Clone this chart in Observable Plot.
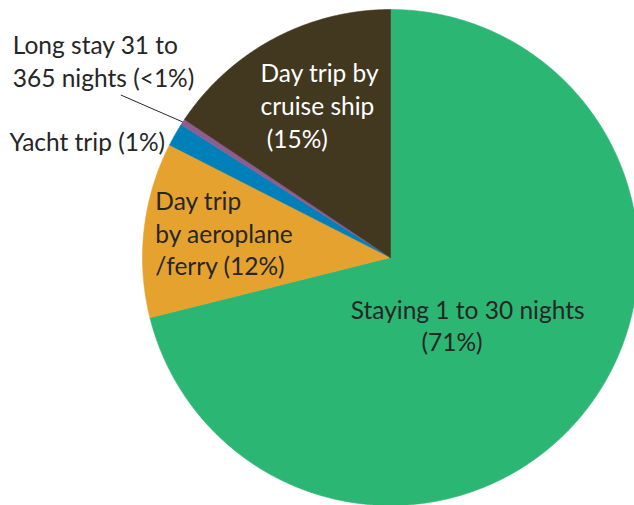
<!DOCTYPE html>
<html><head><meta charset="utf-8">
<script src="https://cdn.jsdelivr.net/npm/d3@7"></script>
<script src="https://cdn.jsdelivr.net/npm/@observablehq/plot@0.6"></script>
<style>html,body{margin:0;padding:0;background:#fff;overflow:hidden}</style>
</head><body><div id="chart"></div>
<script>
const categories = ["Staying 1 to 30 nights", "Day trip by aeroplane/ferry", "Yacht trip", "Long stay 31 to 365 nights", "Day trip by cruise ship"];
const shares = [71.1, 11.4, 1.5, 0.4, 15.6];
const labels = ["Staying 1 to 30 nights\n(71%)     ", "Day trip\nby aeroplane\n/ferry (12%)", "Yacht trip (1%)", "Long stay 31 to\n365 nights (<1%)", "Day trip by\ncruise ship\n (15%)"];
const colors = ["#2cb674", "#e5a22f", "#0080b9", "#8e5c8f", "#42371f"];
const textColors = ["#262626", "#262626", "#262626", "#262626", "#ffffff"];

const W = 634, H = 505, R = 248, CX = 390, CY = 257;
const FONT = "Lato", FS = 24.5;

const arcs = d3.pie().sort(null).value(d => d)(shares);
const slicePts = [];
arcs.forEach((a, i) => {
  slicePts.push({i, x: 0, y: 0});
  const n = Math.max(2, Math.ceil((a.endAngle - a.startAngle) / 0.004));
  for (let j = 0; j <= n; j++) {
    const t = a.startAngle + (a.endAngle - a.startAngle) * j / n;
    slicePts.push({i, x: R * Math.sin(t), y: R * Math.cos(t)});
  }
  slicePts.push({i, x: 0, y: 0});
});
const mid = a => (a.startAngle + a.endAngle) / 2;
const at = (a, k) => ({x: k * R * Math.sin(mid(a)), y: k * R * Math.cos(mid(a))});

const layout = [
  {k: 0.4, dx: -1, dy: 6, anchor: "middle"},
  {k: 0.8, dx: -38, dy: -3, anchor: "start"},
  {k: 1.0, dx: -10, dy: 6, anchor: "end"},
  {k: 1.0, dx: -170, dy: -62, anchor: "start"},
  {k: 0.6, dx: -60, dy: -22, anchor: "start"}
];

const textMarks = arcs.map((a, i) => {
  const p = at(a, layout[i].k);
  return Plot.text([p], {
    x: "x", y: "y", text: () => labels[i],
    dx: layout[i].dx, dy: layout[i].dy,
    textAnchor: layout[i].anchor, lineAnchor: "middle", lineHeight: 1.34,
    fill: textColors[i], fontSize: FS, fontFamily: FONT
  });
});

// leader line: from the slice edge out towards the label (pixel units = data units)
const lp1 = at(arcs[3], 1.0);
const leader = [{x1: lp1.x, y1: lp1.y, x2: lp1.x - 62, y2: lp1.y + 27}];

const chart = Plot.plot({
  width: W, height: H,
  margin: 0,
  x: {domain: [-CX, W - CX], axis: null},
  y: {domain: [-(H - CY), CY], axis: null},
  color: {type: "identity"},
  style: {background: "#fff", overflow: "hidden"},
  marks: [
    Plot.line(slicePts, {x: "x", y: "y", z: "i", fill: d => colors[d.i], stroke: d => colors[d.i], strokeWidth: 0.6, curve: "linear-closed"}),
    Plot.link(leader, {x1: "x1", y1: "y1", x2: "x2", y2: "y2", stroke: "#262626", strokeWidth: 1}),
    ...textMarks
  ]
});
document.getElementById("chart").appendChild(chart);
</script>
</body></html>
